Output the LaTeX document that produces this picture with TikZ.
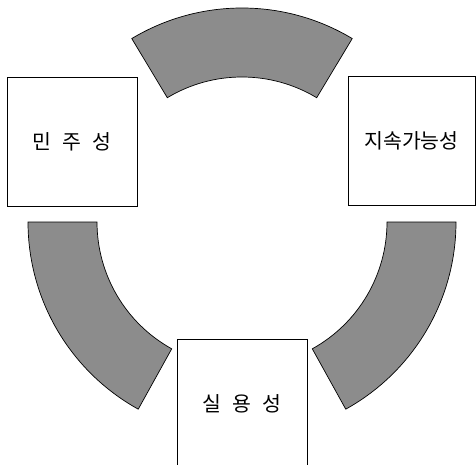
\documentclass[tikz,border=0pt]{standalone}
\usepackage{fontspec}
\setmainfont{Noto Sans CJK KR}
\usetikzlibrary{calc}

\begin{document}
\begin{tikzpicture}[x=1pt, y=1pt,
    box/.style={draw, line width=0.6pt, fill=white, inner sep=0pt,
        minimum width=130pt, minimum height=129pt,
        font=\fontsize{20.5}{20.5}\selectfont},
    band/.style={draw, line width=0.7pt, fill=black!45}]
    \clip (0,0) rectangle (476,464);
    \coordinate (ctr) at (242,242);
    % the three curved bands of the ring
    \foreach \a/\b in {59/121, 180/241, 299/360}
        \draw[band] ($(ctr)+(\a:214)$) arc[start angle=\a, end angle=\b, radius=214]
            -- ($(ctr)+(\b:145)$) arc[start angle=\b, end angle=\a, radius=145] -- cycle;
    % the boxes
    \node[box] (minju) at (72,322.5) {민\hspace{0.55em}주\hspace{0.55em}성};
    \node[box, minimum width=127pt] (jisok) at (411.5,323) {지속가능성};
    \node[box, minimum height=130pt] (silyong) at (242,60) {실\hspace{0.55em}용\hspace{0.55em}성};
\end{tikzpicture}
\end{document}
